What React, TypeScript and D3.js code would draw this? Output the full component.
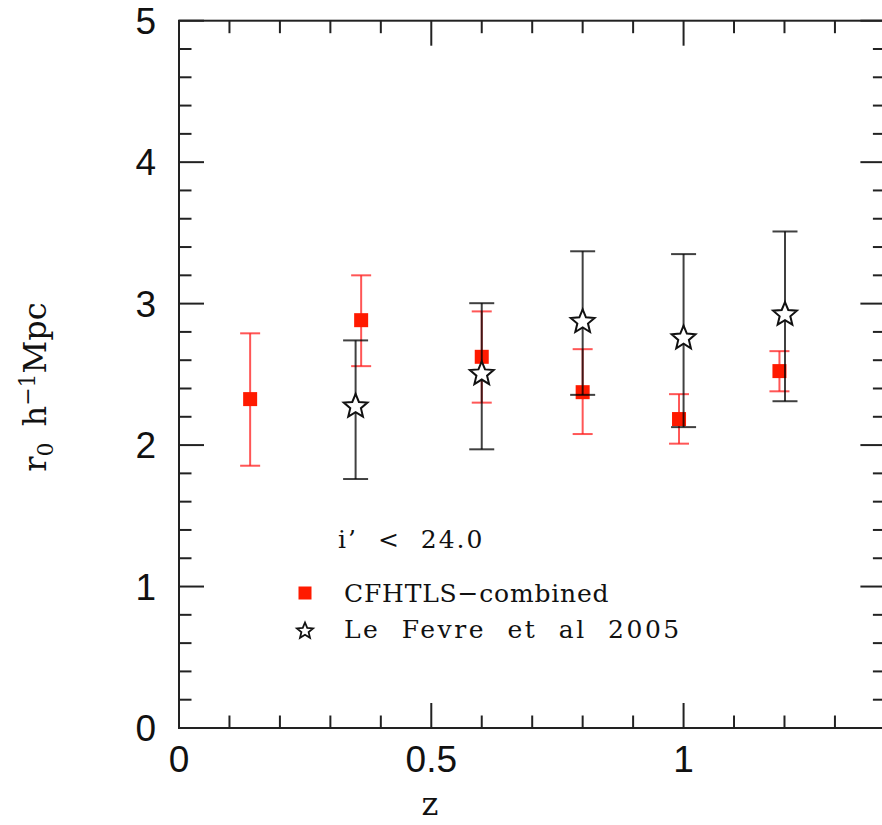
import React from "react";
import * as d3 from "d3";

const cfhtZ = [0.141, 0.361, 0.6, 0.8, 0.991, 1.19];
const cfhtR0 = [2.325, 2.883, 2.624, 2.374, 2.184, 2.523];
const cfhtLo = [1.854, 2.558, 2.3, 2.078, 2.01, 2.38];
const cfhtHi = [2.79, 3.2, 2.945, 2.678, 2.36, 2.664];

const lfZ = [0.35, 0.6, 0.8, 1.0, 1.201];
const lfR0 = [2.28, 2.51, 2.878, 2.763, 2.93];
const lfLo = [1.76, 1.97, 2.355, 2.127, 2.31];
const lfHi = [2.74, 3.003, 3.37, 3.35, 3.51];

const xTickLabels = ["0", "0.5", "1"];
const yTickLabels = ["0", "1", "2", "3", "4", "5"];

const W = 882;
const H = 825;

const x = d3.scaleLinear().domain([0, 1.4]).range([179, 885.4]);
const y = d3.scaleLinear().domain([0, 5]).range([728, 20.7]);

function starPath(R: number, r: number) {
  const pts: [number, number][] = [];
  for (let i = 0; i < 10; i++) {
    const a = -Math.PI / 2 + (i * Math.PI) / 5;
    const rad = i % 2 === 0 ? R : r;
    pts.push([rad * Math.cos(a), rad * Math.sin(a)]);
  }
  return d3.line()(pts) + "Z";
}

const AXIS = "#222";
const RED_LINE = "rgba(255,30,30,0.75)";
const BLACK_LINE = "rgba(0,0,0,0.75)";

export default function App() {
  const minorX = d3.range(0, 1.41, 0.1).map((v) => +v.toFixed(2));
  const majorX = [0, 0.5, 1];
  const minorY = d3.range(0, 5.01, 0.2).map((v) => +v.toFixed(2));
  const majorY = [0, 1, 2, 3, 4, 5];
  const x0 = x(0), x1 = x(1.4), y0 = y(0), y1 = y(5);
  const isMajorX = (v: number) => majorX.some((m) => Math.abs(m - v) < 1e-6);
  const isMajorY = (v: number) => majorY.some((m) => Math.abs(m - v) < 1e-6);
  const star = starPath(12.5, 5.6);
  const starSmall = starPath(8.5, 3.8);
  const serif = "DejaVu Serif, serif";

  return (
    <svg width={W} height={H} style={{ position: "absolute", left: 0, top: 0, background: "#fff" }}>
      {/* frame */}
      <rect x={x0} y={y1} width={x1 - x0} height={y0 - y1} fill="none" stroke={AXIS} strokeWidth={2} />
      {/* x ticks */}
      {minorX.map((v, i) => {
        const len = isMajorX(v) ? 25 : 12.5;
        return (
          <g key={"xt" + i} stroke={AXIS} strokeWidth={2}>
            <line x1={x(v)} x2={x(v)} y1={y0} y2={y0 - len} />
            <line x1={x(v)} x2={x(v)} y1={y1} y2={y1 + len} />
          </g>
        );
      })}
      {minorY.map((v, i) => {
        const len = isMajorY(v) ? 25 : 12.5;
        return (
          <g key={"yt" + i} stroke={AXIS} strokeWidth={2}>
            <line x1={x0} x2={x0 + len} y1={y(v)} y2={y(v)} />
            <line x1={x1} x2={x1 - len} y1={y(v)} y2={y(v)} />
          </g>
        );
      })}
      {/* tick labels */}
      {majorX.map((v, i) => (
        <text key={"xl" + i} x={x(v)} y={772} textAnchor="middle" fontFamily="Liberation Sans, Arial, sans-serif" fontSize={37} fill="#111">
          {xTickLabels[i]}
        </text>
      ))}
      {majorY.map((v, i) => (
        <text key={"yl" + i} x={156} y={y(v)} dy="0.36em" textAnchor="end" fontFamily="Liberation Sans, Arial, sans-serif" fontSize={37} fill="#111">
          {yTickLabels[i]}
        </text>
      ))}
      {/* axis titles */}
      <text x={430} y={815} textAnchor="middle" fontFamily={serif} fontSize={32} fill="#111">z</text>
      <text transform="translate(46,387) rotate(-90)" textAnchor="middle" fontFamily={serif} fontSize={32} fill="#111">
        <tspan>r</tspan>
        <tspan dy={7} fontSize={22}>0</tspan>
        <tspan dy={-7}>{"\u2002h"}</tspan>
        <tspan dy={-11} fontSize={22}>{"\u22121"}</tspan>
        <tspan dy={11}>Mpc</tspan>
      </text>

      {/* CFHTLS error bars */}
      {cfhtZ.map((z, i) => (
        <g key={"ce" + i} stroke={RED_LINE} strokeWidth={2}>
          <line x1={x(z)} x2={x(z)} y1={y(cfhtLo[i])} y2={y(cfhtHi[i])} />
          <line x1={x(z) - 10} x2={x(z) + 10} y1={y(cfhtLo[i])} y2={y(cfhtLo[i])} />
          <line x1={x(z) - 10} x2={x(z) + 10} y1={y(cfhtHi[i])} y2={y(cfhtHi[i])} />
        </g>
      ))}
      {cfhtZ.map((z, i) => (
        <rect key={"cs" + i} x={x(z) - 7} y={y(cfhtR0[i]) - 7} width={14} height={14} fill="#ff1a00" />
      ))}
      {/* Le Fevre error bars */}
      {lfZ.map((z, i) => (
        <g key={"le" + i} stroke={BLACK_LINE} strokeWidth={2}>
          <line x1={x(z)} x2={x(z)} y1={y(lfLo[i])} y2={y(lfHi[i])} />
          <line x1={x(z) - 12.5} x2={x(z) + 12.5} y1={y(lfLo[i])} y2={y(lfLo[i])} />
          <line x1={x(z) - 12.5} x2={x(z) + 12.5} y1={y(lfHi[i])} y2={y(lfHi[i])} />
        </g>
      ))}
      {lfZ.map((z, i) => (
        <path key={"ls" + i} d={star} transform={`translate(${x(z)},${y(lfR0[i]) + 1})`} fill="#fff" stroke="#111" strokeWidth={2} strokeLinejoin="miter" />
      ))}

      {/* legend */}
      <text x={338} y={548} fontFamily={serif} fontSize={25} fill="#111" style={{ wordSpacing: "10px", letterSpacing: "2px" }}>i’ &lt; 24.0</text>
      <rect x={298.5} y={586.5} width={13} height={13} fill="#ff1a00" />
      <text x={344} y={602} fontFamily={serif} fontSize={25} fill="#111" style={{ letterSpacing: "0.8px" }}>CFHTLS−combined</text>
      <path d={starSmall} transform="translate(305,631)" fill="#fff" stroke="#111" strokeWidth={1.8} />
      <text x={344} y={638} fontFamily={serif} fontSize={25} fill="#111" style={{ wordSpacing: "11px", letterSpacing: "2.5px" }}>Le Fevre et al 2005</text>
    </svg>
  );
}
